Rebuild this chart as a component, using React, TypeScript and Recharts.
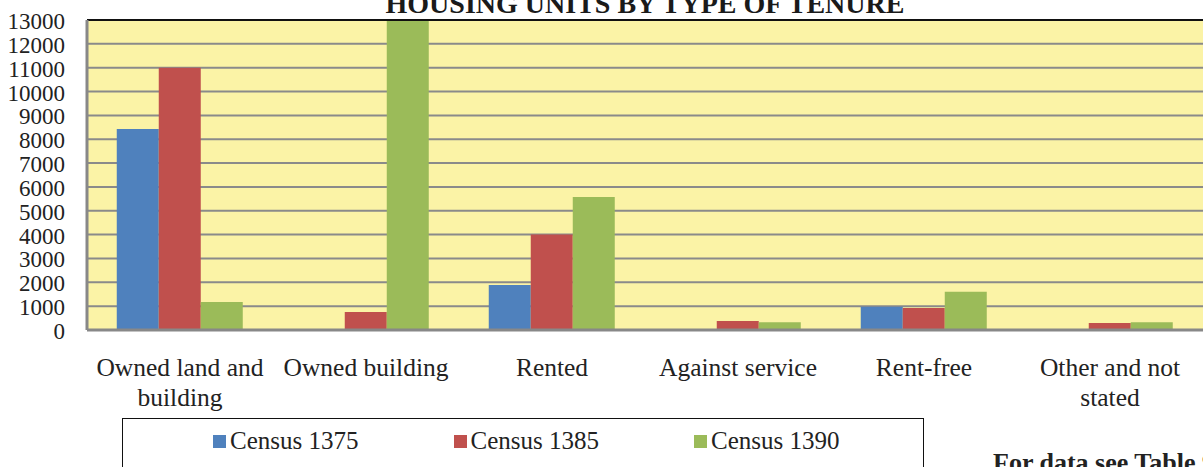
import { BarChart, Bar, XAxis, YAxis, CartesianGrid, ReferenceLine } from "recharts";

const categories = [
  "Owned land and building",
  "Owned building",
  "Rented",
  "Against service",
  "Rent-free",
  "Other and not stated",
];
const census1375 = [8430, 0, 1890, 0, 970, 0];
const census1385 = [11000, 750, 4000, 380, 920, 290];
const census1390 = [1170, 13000, 5580, 330, 1600, 330];
const yTicks = [0, 1000, 2000, 3000, 4000, 5000, 6000, 7000, 8000, 9000, 10000, 11000, 12000, 13000];

const series = [
  { key: "c1375", name: "Census 1375", color: "#4F81BD", values: census1375 },
  { key: "c1385", name: "Census 1385", color: "#C0504D", values: census1385 },
  { key: "c1390", name: "Census 1390", color: "#9BBB59", values: census1390 },
];

const data = categories.map((name, i) => ({
  name,
  c1375: census1375[i],
  c1385: census1385[i],
  c1390: census1390[i],
}));

const serif = "'Liberation Serif', 'Times New Roman', serif";

let ctx: CanvasRenderingContext2D | null = null;
function measure(s: string, font: string) {
  if (!ctx) ctx = document.createElement("canvas").getContext("2d");
  if (!ctx) return s.length * 11;
  ctx.font = font;
  return ctx.measureText(s).width;
}

// greedy word wrap, like the office chart does
function wrap(label: string, maxWidth: number, font: string) {
  const words = label.split(" ");
  const lines: string[] = [];
  let cur = "";
  for (const w of words) {
    const next = cur ? cur + " " + w : w;
    if (cur && measure(next, font) > maxWidth) {
      lines.push(cur);
      cur = w;
    } else {
      cur = next;
    }
  }
  if (cur) lines.push(cur);
  return lines;
}

function CategoryTick(props: any) {
  const { x, y, payload } = props;
  const lines = wrap(String(payload.value), 182, "25.5px 'Liberation Serif'");
  return (
    <text x={x} y={y} textAnchor="middle" fontSize={25.5} fontFamily={serif} fill="#222">
      {lines.map((l, i) => (
        <tspan key={i} x={x} dy={i === 0 ? 18 : 30}>
          {l}
        </tspan>
      ))}
    </text>
  );
}

function ValueTick(props: any) {
  const { x, y, payload } = props;
  return (
    <text x={x} y={y} dy={9} textAnchor="end" fontSize={23} fontFamily={serif} fill="#222">
      {payload.value}
    </text>
  );
}

export default function App() {
  return (
    <div
      style={{
        position: "absolute",
        left: 0,
        top: 0,
        width: 1203,
        height: 467,
        overflow: "hidden",
        background: "#fff",
        fontFamily: serif,
      }}
    >
      <div
        style={{
          position: "absolute",
          left: 0,
          width: 1290,
          top: -12,
          textAlign: "center",
          fontWeight: "bold",
          fontSize: 28,
          color: "#1a1a1a",
          whiteSpace: "nowrap",
        }}
      >
        HOUSING UNITS BY TYPE OF TENURE
      </div>
      <BarChart
        width={1203}
        height={467}
        data={data}
        margin={{ top: 20, right: 0, left: 0, bottom: 0 }}
        barCategoryGap="16%"
        barGap={0}
      >
        <CartesianGrid vertical={false} stroke="#8a8a8a" strokeWidth={2} fill="#FBF3A6" />
        <ReferenceLine y={13000} stroke="#111" strokeWidth={2} />
        <XAxis
          dataKey="name"
          height={137}
          tickLine={false}
          tickSize={0}
          tickMargin={28}
          axisLine={{ stroke: "#888", strokeWidth: 3 }}
          tick={<CategoryTick />}
          interval={0}
        />
        <YAxis
          width={87}
          domain={[0, 13000]}
          ticks={yTicks}
          interval={0}
          allowDataOverflow
          tickLine={false}
          tickSize={0}
          tickMargin={22}
          axisLine={{ stroke: "#888", strokeWidth: 3 }}
          tick={<ValueTick />}
        />
        {series.map((s) => (
          <Bar key={s.key} dataKey={s.key} name={s.name} fill={s.color} isAnimationActive={false} />
        ))}
      </BarChart>
      <div
        style={{
          position: "absolute",
          left: 122,
          top: 418,
          width: 802,
          height: 70,
          border: "1.5px solid #111",
          boxSizing: "border-box",
        }}
      >
        {series.map((s, i) => (
          <div
            key={s.key}
            style={{
              position: "absolute",
              left: 90 + i * 240.5,
              top: 8,
              display: "flex",
              alignItems: "center",
              fontSize: 25,
              color: "#222",
              whiteSpace: "nowrap",
            }}
          >
            <span style={{ display: "inline-block", width: 13, height: 13, background: s.color, marginRight: 4 }} />
            {s.name}
          </div>
        ))}
      </div>
      <div
        style={{
          position: "absolute",
          left: 993,
          top: 448,
          fontSize: 26,
          fontWeight: "bold",
          color: "#222",
          whiteSpace: "nowrap",
        }}
      >
        For data see Table 9
      </div>
    </div>
  );
}
